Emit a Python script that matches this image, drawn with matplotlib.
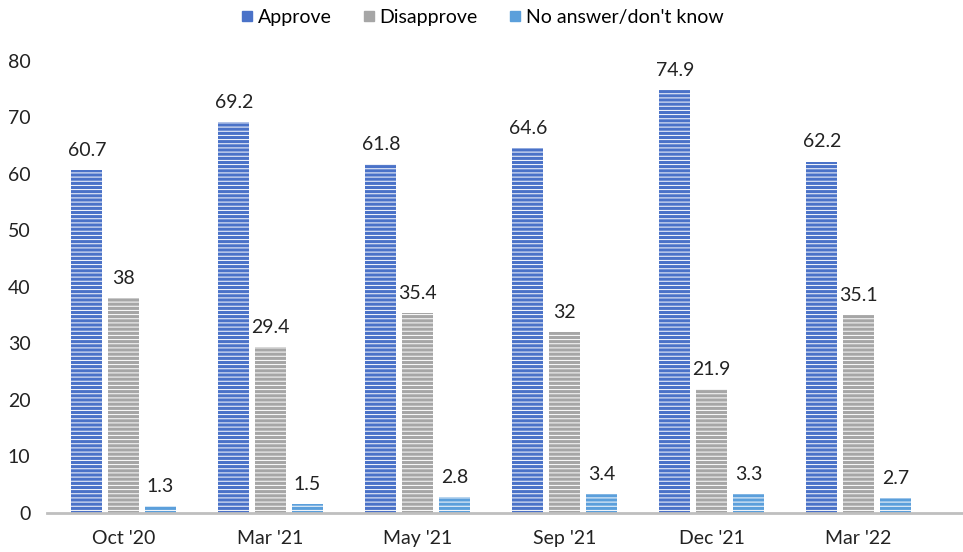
import numpy as np
import matplotlib.pyplot as plt
from matplotlib.lines import Line2D

# Survey waves and shares (%)
waves = ["Oct '20", "Mar '21", "May '21", "Sep '21", "Dec '21", "Mar '22"]
approve = [60.7, 69.2, 61.8, 64.6, 74.9, 62.2]
disapprove = [38, 29.4, 35.4, 32, 21.9, 35.1]
no_answer = [1.3, 1.5, 2.8, 3.4, 3.3, 2.7]

series_names = ["Approve", "Disapprove", "No answer/don't know"]
colors = ["#4A72C8", "#A6A6A6", "#5B9FDB"]

plt.rcParams["font.family"] = ["Lato", "DejaVu Sans"]
plt.rcParams["hatch.linewidth"] = 0.7

fig = plt.figure(figsize=(9.63, 5.52), dpi=100)
ax = fig.add_axes([0.049, 0.0707, 0.951, 0.8188])

x = np.arange(len(waves))
width = 0.21
offsets = [-0.25, 0, 0.25]

for vals, off, col in zip([approve, disapprove, no_answer], offsets, colors):
    bars = ax.bar(x + off, vals, width, color=col, edgecolor="white",
                  linewidth=0, hatch="----")
    for b, v in zip(bars, vals):
        ax.annotate(f"{v:g}", (b.get_x() + b.get_width() / 2, v),
                    xytext=(0, 8), textcoords="offset points",
                    ha="center", va="bottom", fontsize=14, color="#222222")

ax.set_xlim(-0.52, 5.71)
ax.set_ylim(0, 80)
ax.set_yticks(range(0, 81, 10))
ax.set_xticks(x)
ax.set_xticklabels(waves)
ax.tick_params(length=0, labelsize=14, colors="#222222")
ax.tick_params(axis="y", pad=12)
ax.tick_params(axis="x", pad=12)

for s in ["top", "right", "left"]:
    ax.spines[s].set_visible(False)
ax.spines["bottom"].set_color("#BFBFBF")
ax.spines["bottom"].set_linewidth(2)

handles = [Line2D([], [], marker="s", linestyle="", markersize=7,
                  markerfacecolor=c, markeredgecolor=c) for c in colors]
fig.legend(handles, series_names, loc="upper center",
           bbox_to_anchor=(0.5, 1.015), ncol=3, frameon=False,
           fontsize=14, handlelength=0.8, handletextpad=0.15,
           columnspacing=1.5)

fig.savefig("out.png", dpi=100)
